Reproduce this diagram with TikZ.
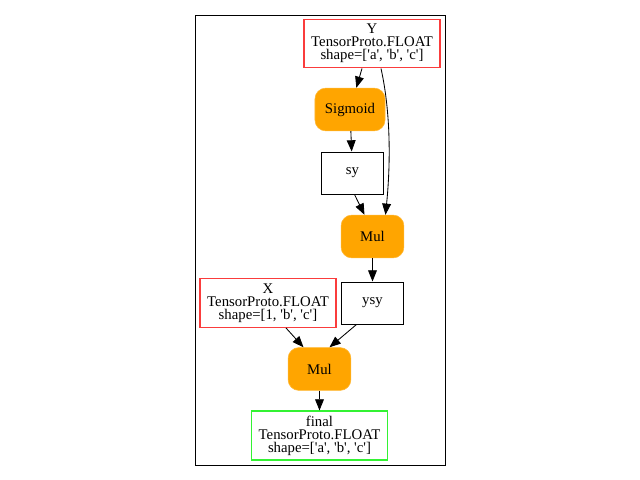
\documentclass[tikz,border=0pt]{standalone}
\usepackage{fontspec}
\setmainfont{Liberation Serif}
\usetikzlibrary{arrows.meta,calc}
\definecolor{opfill}{RGB}{255,165,0}
\definecolor{inred}{RGB}{250,60,60}
\definecolor{outgreen}{rgb}{0.2,0.95,0.2}
\newcommand{\q}[1]{\textquotesingle#1\textquotesingle}
\tikzset{
  tensor/.style={draw=inred,line width=0.8pt,minimum width=3.4cm,minimum height=1.22cm,align=center,inner sep=1pt},
  result/.style={tensor,draw=outgreen,line width=0.9pt},
  interm/.style={draw=black,line width=0.7pt,minimum width=1.57cm,minimum height=1.05cm,align=center},
  opnode/.style={fill=opfill,draw=opfill!80!white,rounded corners=0.27cm,minimum width=1.57cm,minimum height=1.07cm,align=center},
  arr/.style={-{Triangle[length=2.8mm,width=2.2mm]},draw=black,line width=0.6pt}
}
\begin{document}
\begin{tikzpicture}[x=0.025cm,y=-0.025cm,font=\fontsize{10.5}{9.3}\selectfont]
  \useasboundingbox (0,0) rectangle (640,480);
  \draw[line width=0.7pt] (195,15) rectangle (445,465);

  % inputs
  \node[tensor] (Y) at (372,43.5) {Y\\TensorProto.FLOAT\\shape=[\q{a}, \q{b}, \q{c}]};
  \node[tensor] (X) at (268,303) {X\\TensorProto.FLOAT\\shape=[1, \q{b}, \q{c}]};

  % operators and intermediate results
  \node[opnode,minimum width=1.75cm] (sigmoid) at (350,109.5) {Sigmoid};
  \node[interm] (sy) at (352.5,173) {sy};
  \node[opnode] (mula) at (372.5,236.5) {Mul};
  \node[interm] (ysy) at (372.5,303) {ysy};
  \node[opnode] (mulb) at (319.5,369) {Mul};

  % output
  \node[result] (final) at (319.5,435.5) {final\\TensorProto.FLOAT\\shape=[\q{a}, \q{b}, \q{c}]};

  \draw[arr] ($(Y.south)+(-10,0)$) -- (sigmoid);
  \draw[arr] ($(Y.south)+(9,0)$) .. controls ($(Y.south)+(19,45)$) and ($(mula.north)+(18,-50)$) .. ($(mula.north)+(13,0)$);
  \draw[arr] (sigmoid) -- (sy);
  \draw[arr] ($(sy.south)+(2,0)$) -- ($(mula.north)+(-8,0)$);
  \draw[arr] (mula) -- (ysy);
  \draw[arr] ($(X.south)+(18,0)$) -- ($(mulb.north)+(-16,0)$);
  \draw[arr] ($(ysy.south)+(-16,0)$) -- ($(mulb.north)+(10,0)$);
  \draw[arr] (mulb) -- (final);
\end{tikzpicture}
\end{document}
